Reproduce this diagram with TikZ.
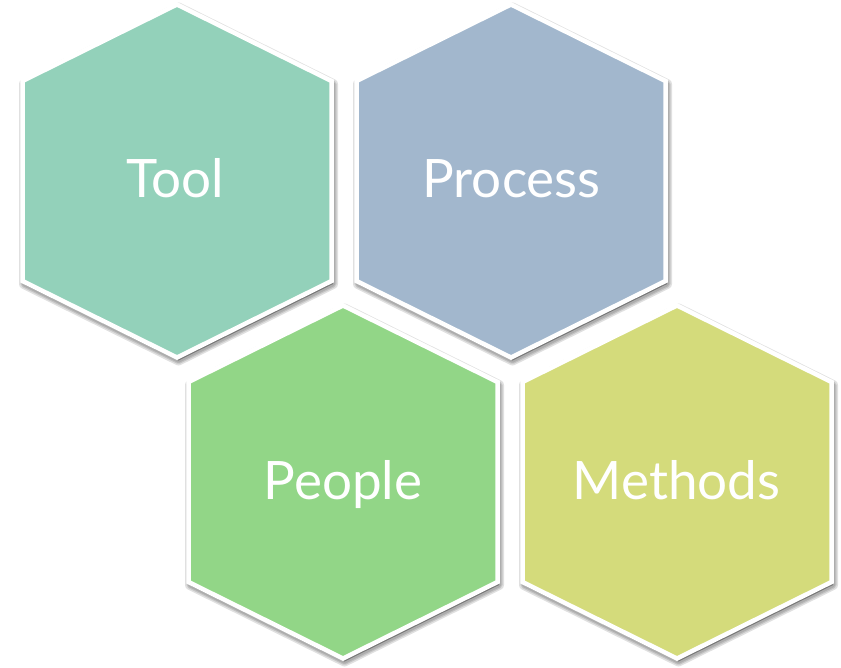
\documentclass[tikz,border=0pt]{standalone}
\usepackage{fontspec}
\setmainfont{Lato}
\usetikzlibrary{calc}
\definecolor{toolc}{RGB}{147,209,186}
\definecolor{procc}{RGB}{162,183,205}
\definecolor{peopc}{RGB}{146,214,135}
\definecolor{methc}{RGB}{212,219,123}
\tikzset{
  hexbox/.style={fill=#1, draw=white, line width=4.5pt, line join=miter},
  hexshadow/.style={draw=black, fill=black, line join=round, line width=#1, opacity=0.12},
  hexlabel/.style={text=white, font=\fontsize{53}{60}\selectfont, inner sep=0pt, anchor=base}
}
\newcommand\hexshape[2]{($(#1,#2)+(0,-176.5)$) -- ($(#1,#2)+(154.5,-100)$) -- ($(#1,#2)+(154.5,100)$)
    -- ($(#1,#2)+(0,176.5)$) -- ($(#1,#2)+(-154.5,100)$) -- ($(#1,#2)+(-154.5,-100)$) -- cycle}
\newcommand\hexpath[3]{%
  \begin{scope}[shift={(1.5,3)}]
    \path[hexshadow=10pt] \hexshape{#1}{#2};
    \path[hexshadow=7pt] \hexshape{#1}{#2};
    \path[hexshadow=4.5pt] \hexshape{#1}{#2};
  \end{scope}
  \path[hexbox=#3] \hexshape{#1}{#2};}
\begin{document}
\begin{tikzpicture}[x=1pt,y=-1pt]
\useasboundingbox (0,0) rectangle (841,667);
\hexpath{177}{181}{toolc}
\hexpath{511}{181}{procc}
\hexpath{343}{482}{peopc}
\hexpath{677}{482}{methc}
\node[hexlabel] (tool) at (175,197) {Tool};
\node[hexlabel] (process) at (511.5,197) {Process};
\node[hexlabel] (people) at (343,499) {People};
\node[hexlabel] (methods) at (676.5,499) {Methods};
\end{tikzpicture}
\end{document}
